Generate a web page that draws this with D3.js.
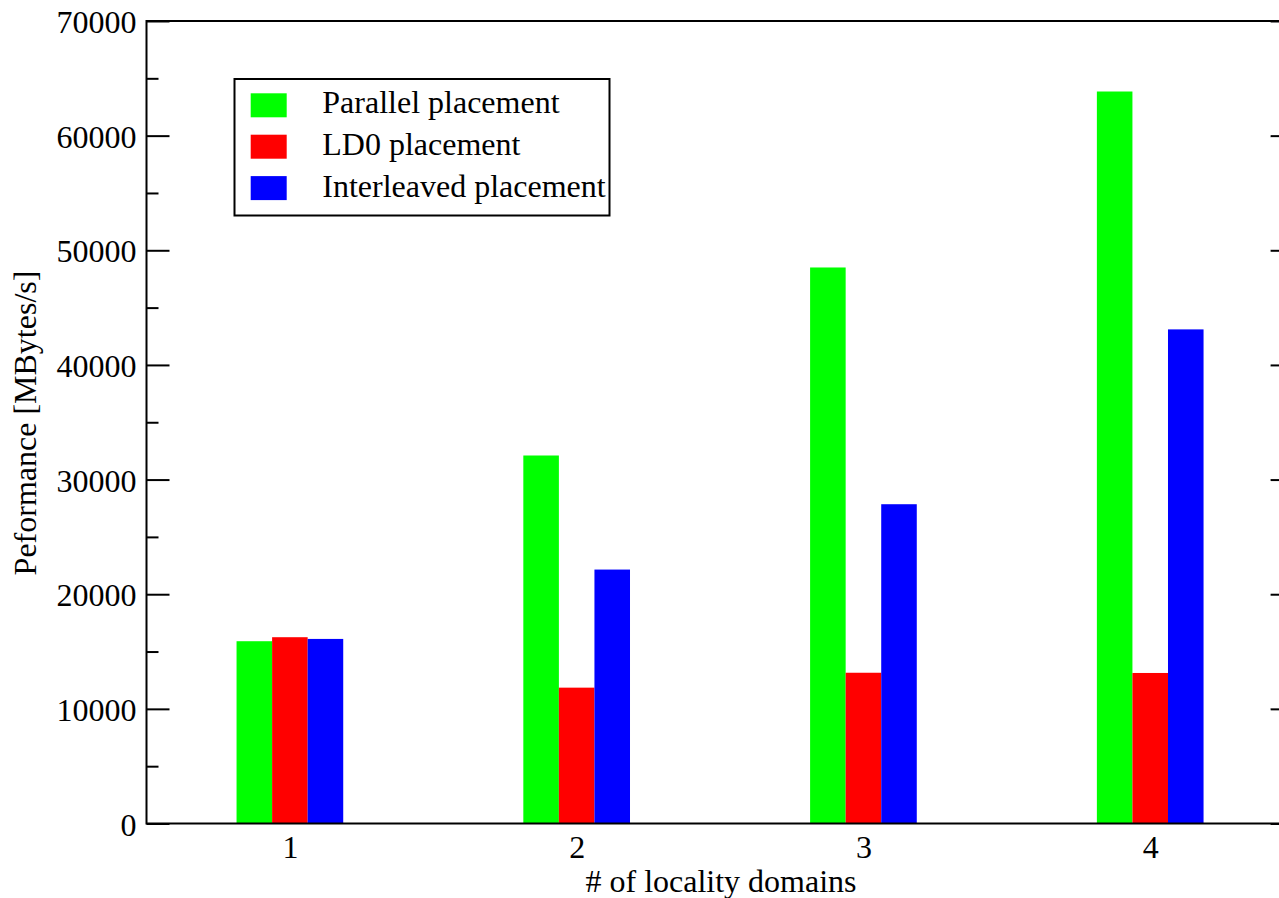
<!DOCTYPE html>
<html>
<head>
<meta charset="utf-8">
<script src="https://cdn.jsdelivr.net/npm/d3@7"></script>
<style>
  html, body { margin: 0; padding: 0; background: #fff; }
  svg { display: block; }
  text { font-family: "Liberation Serif", "Times New Roman", serif; fill: #000; }
</style>
</head>
<body>
<svg id="chart" width="1279" height="898"></svg>
<script>
// ---- data ----
const categories = [1, 2, 3, 4];
const seriesNames = ["Parallel placement", "LD0 placement", "Interleaved placement"];
const seriesColors = ["#00ff00", "#ff0000", "#0000ff"];
const parallelValues = [15900, 32100, 48500, 63850];
const ld0Values = [16250, 11850, 13150, 13130];
const interleavedValues = [16100, 22150, 27850, 43100];
const yMajorTicks = [0, 10000, 20000, 30000, 40000, 50000, 60000, 70000];
const yMinorTicks = [5000, 15000, 25000, 35000, 45000, 55000, 65000];
const xTickLabels = ["1", "2", "3", "4"];
const xTitle = "# of locality domains";
const yTitle = "Peformance [MBytes/s]";

const seriesValues = [parallelValues, ld0Values, interleavedValues];

const svg = d3.select("#chart");
const pLeft = 146.5, pRight = 1293.6, pTop = 21, pBottom = 823.5;
const fontSize = 32;

const x = d3.scaleLinear().domain([0.5, 4.5]).range([pLeft, pRight]);
const y = d3.scaleLinear().domain([0, 70000]).range([pBottom, pTop]);
const barW = 0.124; // in x units

// x ticks (inward, under bars)
const xAxis = svg.append("g").attr("transform", `translate(0,${pBottom})`)
  .call(d3.axisBottom(x).tickValues(categories).tickFormat((d, i) => xTickLabels[i])
    .tickSize(-23).tickSizeOuter(0).tickPadding(0));
xAxis.select(".domain").remove();
xAxis.selectAll(".tick line").attr("stroke", "#000").attr("stroke-width", 2);
xAxis.selectAll(".tick text").attr("y", 34.5).attr("dy", "0").style("font-size", fontSize + "px");

// bars
seriesValues.forEach((vals, si) => {
  svg.append("g").selectAll("rect").data(vals).join("rect")
    .attr("x", (d, i) => x(categories[i] + (si - 1.5) * barW))
    .attr("width", x(barW) - x(0))
    .attr("y", d => y(d))
    .attr("height", d => y(0) - y(d))
    .attr("fill", seriesColors[si]);
});

// left axis
const yAxis = svg.append("g").attr("transform", `translate(${pLeft},0)`)
  .call(d3.axisLeft(y).tickValues(yMajorTicks).tickFormat(d3.format("d"))
    .tickSize(-23).tickSizeOuter(0).tickPadding(10));
yAxis.select(".domain").remove();
yAxis.selectAll(".tick line").attr("stroke", "#000").attr("stroke-width", 2);
yAxis.selectAll(".tick text").attr("dy", "0.36em").style("font-size", fontSize + "px");

const yMinor = svg.append("g").attr("transform", `translate(${pLeft},0)`)
  .call(d3.axisLeft(y).tickValues(yMinorTicks).tickFormat("").tickSize(-12).tickSizeOuter(0));
yMinor.select(".domain").remove();
yMinor.selectAll(".tick line").attr("stroke", "#000").attr("stroke-width", 2);

// right axis (mirrored ticks)
const yRight = svg.append("g").attr("transform", `translate(${pRight},0)`)
  .call(d3.axisRight(y).tickValues(yMajorTicks).tickFormat("").tickSize(-23).tickSizeOuter(0));
yRight.select(".domain").remove();
yRight.selectAll(".tick line").attr("stroke", "#000").attr("stroke-width", 2);
const yRightMinor = svg.append("g").attr("transform", `translate(${pRight},0)`)
  .call(d3.axisRight(y).tickValues(yMinorTicks).tickFormat("").tickSize(-12).tickSizeOuter(0));
yRightMinor.select(".domain").remove();
yRightMinor.selectAll(".tick line").attr("stroke", "#000").attr("stroke-width", 2);

// frame
svg.append("rect").attr("x", pLeft).attr("y", pTop)
  .attr("width", pRight - pLeft).attr("height", pBottom - pTop)
  .attr("fill", "none").attr("stroke", "#000").attr("stroke-width", 2);

// axis titles
svg.append("text").attr("x", 721).attr("y", 892).attr("text-anchor", "middle")
  .style("font-size", fontSize + "px").text(xTitle);
svg.append("text").attr("transform", "translate(36,423) rotate(-90)").attr("text-anchor", "middle")
  .style("font-size", fontSize + "px").text(yTitle);

// legend
const lg = svg.append("g");
lg.append("rect").attr("x", 234.5).attr("y", 79).attr("width", 375).attr("height", 136.5)
  .attr("fill", "#fff").attr("stroke", "#000").attr("stroke-width", 2);
seriesNames.forEach((name, i) => {
  lg.append("rect").attr("x", 250.7).attr("y", 93.3 + i * 41.4).attr("width", 36).attr("height", 24)
    .attr("fill", seriesColors[i]);
  lg.append("text").attr("x", 322.3).attr("y", 113.3 + i * 41.7)
    .style("font-size", fontSize + "px").text(name);
});
</script>
</body>
</html>
